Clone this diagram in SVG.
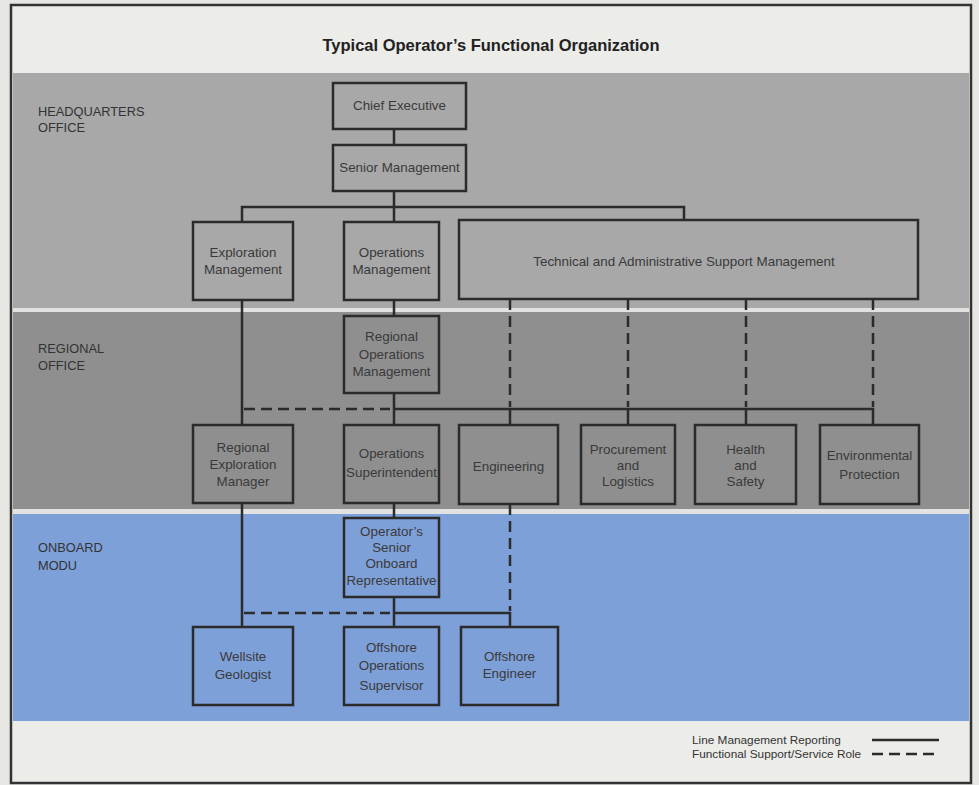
<svg xmlns="http://www.w3.org/2000/svg" width="979" height="785" viewBox="0 0 979 785">
<style>
  .box { fill: none; stroke: #2b2b2b; stroke-width: 2.5; }
  .ln { fill: none; stroke: #2b2b2b; stroke-width: 2.5; }
  .dash { fill: none; stroke: #2b2b2b; stroke-width: 2.5; stroke-dasharray: 11 6; }
  .t { font-family: "Liberation Sans", Arial, sans-serif; font-size: 13.4px; fill: #3a3a3a; text-anchor: middle; }
  .band { font-family: "Liberation Sans", Arial, sans-serif; font-size: 12.8px; fill: #333; }
  .leg { font-family: "Liberation Sans", Arial, sans-serif; font-size: 11.8px; fill: #333; }
</style>
<rect x="0" y="0" width="979" height="785" fill="#e6e6e3"/>
<rect x="11" y="5" width="960" height="778" fill="#ecece9" stroke="#333" stroke-width="2.5"/>
<g id="bands">
  <rect x="13" y="73" width="956" height="235" fill="#a8a8a8"/>
  <rect x="13" y="308" width="956" height="4" fill="#e2e2e0"/>
  <rect x="13" y="312" width="956" height="197" fill="#8f8f8f"/>
  <rect x="13" y="509" width="956" height="5" fill="#e2e2e0"/>
  <rect x="13" y="514" width="956" height="207" fill="#7ea0d9"/>
</g>
<text x="491" y="51" font-family="Liberation Sans, Arial, sans-serif" font-size="16.5" font-weight="bold" fill="#222" text-anchor="middle">Typical Operator’s Functional Organization</text>
<g id="band-labels">
  <text class="band" x="38" y="116">HEADQUARTERS</text>
  <text class="band" x="38" y="132">OFFICE</text>
  <text class="band" x="38" y="353">REGIONAL</text>
  <text class="band" x="38" y="370">OFFICE</text>
  <text class="band" x="38" y="552">ONBOARD</text>
  <text class="band" x="38" y="570">MODU</text>
</g>
<g id="connectors">
  <line class="ln" x1="394" y1="129" x2="394" y2="145"/>
  <polyline class="ln" points="242,222 242,207 684,207 684,220"/>
  <line class="ln" x1="394" y1="191" x2="394" y2="222"/>
  <line class="ln" x1="394" y1="300" x2="394" y2="316"/>
  <line class="ln" x1="394" y1="393" x2="394" y2="425"/>
  <line class="ln" x1="242" y1="300" x2="242" y2="425"/>
  <line class="dash" x1="244" y1="409" x2="390" y2="409"/>
  <polyline class="ln" points="394,409 873,409 873,425"/>
  <line class="ln" x1="510" y1="409" x2="510" y2="425"/>
  <line class="ln" x1="628" y1="409" x2="628" y2="425"/>
  <line class="ln" x1="746" y1="409" x2="746" y2="425"/>
  <line class="dash" x1="510" y1="299" x2="510" y2="407"/>
  <line class="dash" x1="628" y1="299" x2="628" y2="407"/>
  <line class="dash" x1="746" y1="299" x2="746" y2="407"/>
  <line class="dash" x1="873" y1="299" x2="873" y2="407"/>
  <line class="ln" x1="394" y1="503" x2="394" y2="518"/>
  <line class="ln" x1="242" y1="503" x2="242" y2="627"/>
  <line class="ln" x1="394" y1="597" x2="394" y2="627"/>
  <line class="dash" x1="244" y1="613" x2="390" y2="613"/>
  <polyline class="ln" points="394,613 510,613 510,627"/>
  <line class="dash" x1="510" y1="504" x2="510" y2="611"/>
</g>
<g id="chief-executive">
  <rect class="box" x="333" y="83" width="133" height="46"/>
  <text class="t" x="399.5" y="110">Chief Executive</text>
</g>
<g id="senior-management">
  <rect class="box" x="333" y="145" width="133" height="46"/>
  <text class="t" x="399.5" y="172">Senior Management</text>
</g>
<g id="exploration-management">
  <rect class="box" x="193" y="222" width="100" height="78"/>
  <text class="t" x="243" y="257">Exploration</text>
  <text class="t" x="243" y="274">Management</text>
</g>
<g id="operations-management">
  <rect class="box" x="344" y="222" width="95" height="78"/>
  <text class="t" x="391.5" y="257">Operations</text>
  <text class="t" x="391.5" y="274">Management</text>
</g>
<g id="technical-support">
  <rect class="box" x="459" y="220" width="459" height="79"/>
  <text class="t" x="684" y="266">Technical and Administrative Support Management</text>
</g>
<g id="regional-operations-management">
  <rect class="box" x="344" y="316" width="95" height="77"/>
  <text class="t" x="391.5" y="341">Regional</text>
  <text class="t" x="391.5" y="359">Operations</text>
  <text class="t" x="391.5" y="376">Management</text>
</g>
<g id="regional-exploration-manager">
  <rect class="box" x="193" y="425" width="100" height="78"/>
  <text class="t" x="243" y="452">Regional</text>
  <text class="t" x="243" y="469">Exploration</text>
  <text class="t" x="243" y="486">Manager</text>
</g>
<g id="operations-superintendent">
  <rect class="box" x="344" y="425" width="95" height="78"/>
  <text class="t" x="391.5" y="458">Operations</text>
  <text class="t" x="391.5" y="477">Superintendent</text>
</g>
<g id="engineering">
  <rect class="box" x="459" y="425" width="99" height="79"/>
  <text class="t" x="508.5" y="471">Engineering</text>
</g>
<g id="procurement-logistics">
  <rect class="box" x="581" y="425" width="94" height="79"/>
  <text class="t" x="628" y="454">Procurement</text>
  <text class="t" x="628" y="470">and</text>
  <text class="t" x="628" y="486">Logistics</text>
</g>
<g id="health-safety">
  <rect class="box" x="695" y="425" width="101" height="79"/>
  <text class="t" x="745.5" y="454">Health</text>
  <text class="t" x="745.5" y="470">and</text>
  <text class="t" x="745.5" y="486">Safety</text>
</g>
<g id="environmental-protection">
  <rect class="box" x="820" y="425" width="99" height="79"/>
  <text class="t" x="869.5" y="460">Environmental</text>
  <text class="t" x="869.5" y="479">Protection</text>
</g>
<g id="senior-onboard-representative">
  <rect class="box" x="344" y="518" width="95" height="79"/>
  <text class="t" x="391.5" y="536">Operator’s</text>
  <text class="t" x="391.5" y="552">Senior</text>
  <text class="t" x="391.5" y="568">Onboard</text>
  <text class="t" x="391.5" y="585">Representative</text>
</g>
<g id="wellsite-geologist">
  <rect class="box" x="193" y="627" width="100" height="78"/>
  <text class="t" x="243" y="661">Wellsite</text>
  <text class="t" x="243" y="679">Geologist</text>
</g>
<g id="offshore-operations-supervisor">
  <rect class="box" x="344" y="627" width="95" height="78"/>
  <text class="t" x="391.5" y="652">Offshore</text>
  <text class="t" x="391.5" y="670">Operations</text>
  <text class="t" x="391.5" y="690">Supervisor</text>
</g>
<g id="offshore-engineer">
  <rect class="box" x="461" y="627" width="97" height="78"/>
  <text class="t" x="509.5" y="661">Offshore</text>
  <text class="t" x="509.5" y="678">Engineer</text>
</g>
<g id="legend">
  <text class="leg" x="692" y="744">Line Management Reporting</text>
  <text class="leg" x="692" y="758">Functional Support/Service Role</text>
  <line class="ln" x1="872" y1="740" x2="939" y2="740"/>
  <line class="dash" x1="872" y1="754" x2="939" y2="754" stroke-dasharray="9 5"/>
</g>
</svg>
